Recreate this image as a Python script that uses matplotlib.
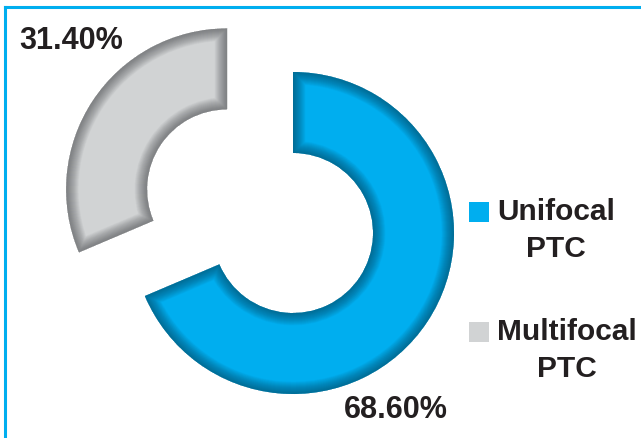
import matplotlib
matplotlib.use("Agg")
import matplotlib.pyplot as plt
from matplotlib.patches import PathPatch
from matplotlib.lines import Line2D

# Data
categories = ["Unifocal\nPTC", "Multifocal\nPTC"]
values = [68.60, 31.40]
value_labels = ["68.60%", "31.40%"]
colors = ["#00AEEF", "#D1D3D4"]
shade_colors = ["#03465F", "#4A4C4F"]

W, H = 641, 439
fig = plt.figure(figsize=(W / 100, H / 100), dpi=100)
ax = fig.add_axes([0, 0, 1, 1])

family = ["Liberation Sans", "DejaVu Sans"]
text_color = "#231F20"

wedges, _ = ax.pie(
    values,
    colors=colors,
    startangle=90,
    counterclock=False,
    radius=161,
    center=(293, 205),
    explode=[0, 79],
    wedgeprops=dict(width=81, linewidth=0),
)

# Bevelled edges: layered dark strokes clipped to the inside of each ring segment
px = 0.72  # points per pixel at 100 dpi
for w, sc in zip(wedges, shade_colors):
    for lw in range(2, 26, 1):
        edge = PathPatch(w.get_path(), transform=w.get_transform(), fill=False,
                         edgecolor=sc, linewidth=lw * px, alpha=0.032,
                         joinstyle="miter")
        edge.set_clip_path(w)
        ax.add_patch(edge)

ax.set_xlim(0, W)
ax.set_ylim(0, H)
ax.set_aspect("equal")
ax.axis("off")

# Value labels
ax.text(396, 29, value_labels[0], ha="center", va="center", fontsize=22,
        family=family, weight="bold", color=text_color)
ax.text(71, 398, value_labels[1], ha="center", va="center", fontsize=22,
        family=family, weight="bold", color=text_color)

# Legend: colour square beside each two-line category name
legend_y = [H - 213, H - 333]
for label, c, y in zip(categories, colors, legend_y):
    ax.scatter([479], [y], marker="s", s=14.4 ** 2, color=c, linewidths=0)
    ax.text(497, y + 15, label, ha="left", va="top", fontsize=21.5,
            family=family, weight="bold", color=text_color,
            multialignment="center", linespacing=1.42)

# Frame lines along the top and left edges
fig.add_artist(Line2D([4.5 / W, 1], [1 - 7.5 / H, 1 - 7.5 / H], color="#00AEEF",
                      linewidth=2.2, transform=fig.transFigure))
fig.add_artist(Line2D([5 / W, 5 / W], [0, 1 - 7.5 / H], color="#00AEEF",
                      linewidth=2.2, transform=fig.transFigure))

fig.savefig("out.png", dpi=100, facecolor="white")
